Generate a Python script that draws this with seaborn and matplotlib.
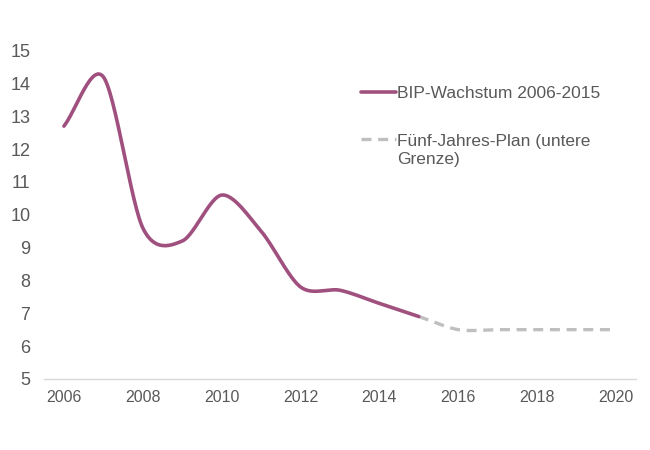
import numpy as np
import pandas as pd
import matplotlib
matplotlib.use("Agg")
import matplotlib.pyplot as plt
import seaborn as sns
from matplotlib.legend_handler import HandlerLine2D

# Data
years_hist = [2006, 2007, 2008, 2009, 2010, 2011, 2012, 2013, 2014, 2015]
growth_hist = [12.7, 14.2, 9.6, 9.2, 10.6, 9.5, 7.8, 7.7, 7.3, 6.9]
years_plan = [2015, 2016, 2017, 2018, 2019, 2020]
growth_plan = [6.9, 6.5, 6.5, 6.5, 6.5, 6.5]
label_hist = "BIP-Wachstum 2006-2015"
label_plan = "Fünf-Jahres-Plan (untere\nGrenze)"
xticks = [2006, 2008, 2010, 2012, 2014, 2016, 2018, 2020]
yticks = list(range(5, 16))


def smooth(xs, ys, n=30, k=0.9):
    """Cardinal-spline rendering of a line through the given points."""
    x = np.asarray(xs, float)
    y = np.asarray(ys, float)
    px = np.concatenate([[2 * x[0] - x[1]], x, [2 * x[-1] - x[-2]]])
    py = np.concatenate([[2 * y[0] - y[1]], y, [2 * y[-1] - y[-2]]])
    ox, oy = [], []
    t = np.linspace(0, 1, n)
    for i in range(1, len(px) - 2):
        for arr, out in ((px, ox), (py, oy)):
            p0, p1, p2, p3 = arr[i - 1], arr[i], arr[i + 1], arr[i + 2]
            m1 = k * (p2 - p0) / 2
            m2 = k * (p3 - p1) / 2
            h00 = 2 * t**3 - 3 * t**2 + 1
            h10 = t**3 - 2 * t**2 + t
            h01 = -2 * t**3 + 3 * t**2
            h11 = t**3 - t**2
            out.extend(h00 * p1 + h10 * m1 + h01 * p2 + h11 * m2)
    return np.array(ox), np.array(oy)


class RaisedLine(HandlerLine2D):
    """Legend handle aligned with the first line of a two-line label."""
    def __init__(self, shift, **kw):
        super().__init__(**kw)
        self.shift = shift

    def create_artists(self, legend, orig_handle, xdescent, ydescent, width,
                       height, fontsize, trans):
        return super().create_artists(legend, orig_handle, xdescent,
                                      ydescent - self.shift, width, height,
                                      fontsize, trans)


sns.set_theme(style="white")
plt.rcParams["font.family"] = ["Liberation Sans", "DejaVu Sans"]

fig = plt.figure(figsize=(6.5, 4.5), dpi=100)
ax = fig.add_axes([0.068, 0.158, 0.910, 0.766])

hx, hy = smooth(years_hist, growth_hist)
px_, py_ = smooth(years_plan, growth_plan)
df_h = pd.DataFrame({"Jahr": hx, "Wert": hy})
df_p = pd.DataFrame({"Jahr": px_, "Wert": py_})

sns.lineplot(data=df_p, x="Jahr", y="Wert", ax=ax, color="#BFBFBF", lw=2.4,
             linestyle=(0, (3, 2)), sort=False, label=label_plan)
sns.lineplot(data=df_h, x="Jahr", y="Wert", ax=ax, color="#A0507F", lw=2.6,
             sort=False, label=label_hist)

ax.set_xlim(2005.5, 2020.5)
ax.set_ylim(5, 15.5)
ax.set_xticks(xticks)
ax.set_yticks(yticks)
ax.set_xlabel("")
ax.set_ylabel("")
ax.tick_params(axis="x", labelsize=11.5, labelcolor="#595959", length=0, pad=8)
ax.tick_params(axis="y", labelsize=13, labelcolor="#595959", length=0, pad=10)
for s in ["top", "right", "left"]:
    ax.spines[s].set_visible(False)
ax.spines["bottom"].set_color("#D9D9D9")
ax.spines["bottom"].set_linewidth(1)

handles, labels = ax.get_legend_handles_labels()
leg = ax.legend(handles[::-1], labels[::-1], loc="upper left",
                bbox_to_anchor=(0.5235, 0.871), frameon=False, fontsize=12.5,
                handlelength=2.0, handletextpad=0.1, labelspacing=1.9,
                labelcolor="#595959", borderaxespad=0,
                handler_map={handles[0]: RaisedLine(17)})
for txt in leg.get_texts():
    txt.set_linespacing(1.3)

fig.savefig("out.png", dpi=100)
